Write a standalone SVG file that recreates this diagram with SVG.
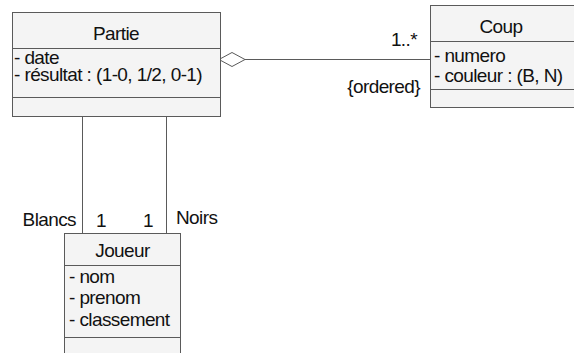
<svg xmlns="http://www.w3.org/2000/svg" width="574" height="353" viewBox="0 0 574 353">
<style>
.box{fill:#f4f4f4;stroke:#5a5a5a;stroke-width:1}
.sep{stroke:#5a5a5a;stroke-width:1}
.conn{stroke:#5a5a5a;stroke-width:1;fill:none}
text{font-family:"Liberation Sans",Arial,sans-serif;font-size:19px;letter-spacing:-0.6px;fill:#111}
.title{text-anchor:middle}
</style>
<rect width="574" height="353" fill="#ffffff"/>
<g id="connectors">
<line class="conn" x1="245" y1="59.5" x2="430.5" y2="59.5"/>
<polygon class="conn" points="219,59.5 232,52.5 245,59.5 232,66.5" style="fill:#ffffff"/>
<line class="conn" x1="82.5" y1="116" x2="82.5" y2="233"/>
<line class="conn" x1="166.5" y1="116" x2="166.5" y2="233"/>
<text x="417" y="46" text-anchor="end">1..*</text>
<text x="420" y="93" text-anchor="end">{ordered}</text>
<text x="76" y="226" text-anchor="end">Blancs</text>
<text x="106" y="227" text-anchor="end">1</text>
<text x="153" y="227" text-anchor="end">1</text>
<text x="176" y="224">Noirs</text>
</g>
<g id="Partie">
<rect class="box" x="12.5" y="12.5" width="208" height="104"/>
<line class="sep" x1="12.5" y1="48.5" x2="220.5" y2="48.5"/>
<line class="sep" x1="12.5" y1="97.5" x2="220.5" y2="97.5"/>
<text class="title" x="116" y="40">Partie</text>
<text x="14" y="64">- date</text>
<text x="14" y="81">- résultat : (1-0, 1/2, 0-1)</text>
</g>
<g id="Coup">
<rect class="box" x="430.5" y="5.5" width="150" height="102"/>
<line class="sep" x1="430.5" y1="41.5" x2="580" y2="41.5"/>
<line class="sep" x1="430.5" y1="89.5" x2="580" y2="89.5"/>
<text class="title" x="501" y="33">Coup</text>
<text x="434" y="62">- numero</text>
<text x="434" y="82">- couleur : (B, N)</text>
</g>
<g id="Joueur">
<rect class="box" x="64.5" y="233.5" width="116" height="130"/>
<line class="sep" x1="64.5" y1="265.5" x2="180.5" y2="265.5"/>
<line class="sep" x1="64.5" y1="337.5" x2="180.5" y2="337.5"/>
<text class="title" x="122.5" y="257">Joueur</text>
<text x="69" y="283">- nom</text>
<text x="69" y="304">- prenom</text>
<text x="69" y="326">- classement</text>
</g>
</svg>
